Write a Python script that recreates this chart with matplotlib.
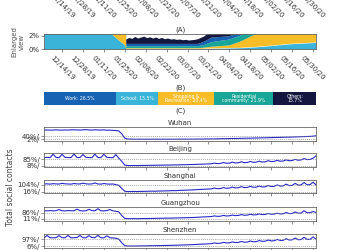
import numpy as np
import pandas as pd
import matplotlib
matplotlib.use("Agg")
import matplotlib.pyplot as plt
import matplotlib.dates as mdates

# colours for the five settings
c_school = '#3ab4d8'
c_shop = '#f6bd27'
c_res = '#17a697'
c_work = '#1763b3'
c_other = '#141640'

# (A) enlarged view: contacts per setting (% of normal), stacked
a_dates = ['2019-12-02', '2020-01-12', '2020-01-16', '2020-01-25', '2020-01-26',
           '2020-01-28', '2020-01-30', '2020-02-01', '2020-02-03', '2020-02-05',
           '2020-02-07', '2020-02-09', '2020-02-11', '2020-02-13', '2020-02-15',
           '2020-02-17', '2020-02-19', '2020-02-21', '2020-02-23', '2020-02-25',
           '2020-02-27', '2020-02-29', '2020-03-02', '2020-03-04', '2020-03-06',
           '2020-03-08', '2020-03-10', '2020-03-12', '2020-03-14', '2020-03-18',
           '2020-03-23', '2020-04-04', '2020-04-12', '2020-04-20', '2020-05-01',
           '2020-05-15', '2020-06-01']
a_school = [25, 25, 2.3, 0.6, 0.03, 0.03, 0.03, 0.03, 0.03, 0.03, 0.03, 0.03, 0.03,
            0.03, 0.03, 0.03, 0.03, 0.03, 0.03, 0.03, 0.03, 0.03, 0.03, 0.03, 0.03,
            0.03, 0.03, 0.03, 0.03, 0.05, 0.1, 0.15, 0.2, 0.3, 0.5, 0.8, 1.0]
a_shop = [20, 20, 20, 20, 0.1, 0.1, 0.1, 0.1, 0.1, 0.1, 0.1, 0.1, 0.1, 0.1, 0.1,
          0.1, 0.1, 0.1, 0.1, 0.1, 0.1, 0.1, 0.1, 0.1, 0.1, 0.1, 0.1, 0.1, 0.1,
          0.15, 0.25, 0.4, 1.0, 1.8, 2.5, 2.5, 3.0]
a_res = [20, 20, 20, 20, 0.3, 0.3, 0.3, 0.3, 0.3, 0.3, 0.3, 0.3, 0.3, 0.3, 0.3,
         0.3, 0.3, 0.3, 0.3, 0.3, 0.3, 0.3, 0.3, 0.3, 0.3, 0.3, 0.3, 0.3, 0.3,
         0.4, 0.7, 0.9, 0.9, 0.9, 1.0, 1.0, 1.0]
a_work = [25, 25, 25, 25, 0.35, 0.35, 0.35, 0.35, 0.35, 0.35, 0.35, 0.35, 0.35,
          0.35, 0.35, 0.35, 0.35, 0.35, 0.35, 0.35, 0.35, 0.35, 0.35, 0.35, 0.35,
          0.35, 0.35, 0.35, 0.35, 0.5, 0.7, 0.5, 0.5, 0.5, 0.5, 0.5, 0.5]
a_other = [15, 15, 15, 15, 0.67, 0.92, 0.77, 1.07, 0.82, 0.97, 1.12, 0.87, 1.02,
           0.82, 0.97, 0.77, 0.92, 0.72, 0.82, 0.67, 0.72, 0.62, 0.67, 0.57, 0.62,
           0.52, 0.57, 0.62, 0.72, 0.8, 1.0, 1.0, 1.0, 1.0, 1.0, 1.0, 1.0]

# (B) share of contacts by setting
b_labels = ['Work: 26.5%', 'School: 15.5%', 'Shopping &\nRecreation: 20.4%',
            'Residential\ncommunity: 21.9%', 'Others:\n15.7%']
b_shares = [26.5, 15.5, 20.4, 21.9, 15.7]

# (C) total social contacts, every 2 days from 12/02/19
cities = ['Wuhan', 'Beijing', 'Shanghai', 'Guangzhou', 'Shenzhen']
city_hi = [40, 85, 104, 86, 97]
city_lo = [2, 8, 16, 11, 6]
wuhan = [116, 117, 115, 116, 118, 116, 115, 117, 116, 118,
         119, 117, 116, 118, 121, 117, 116, 119, 117, 116,
         118, 114, 115, 112, 110, 104, 70, 15, 4, 3,
         2, 2, 2, 2, 2, 2, 2, 2, 2, 2,
         2, 2, 2, 2, 2, 3, 3, 3, 3, 3,
         3, 4, 4, 4, 5, 5, 6, 6, 7, 8,
         8, 9, 10, 11, 11, 12, 13, 14, 15, 15,
         16, 17, 18, 19, 20, 21, 22, 23, 24, 25,
         26, 27, 28, 29, 30, 32, 33, 34, 36, 37,
         40, 45]
beijing = [108, 110, 107, 150, 109, 106, 148, 110, 108, 107,
           152, 109, 107, 146, 110, 108, 106, 150, 108, 107,
           149, 110, 108, 105, 145, 100, 60, 12, 8, 7,
           8, 7, 8, 9, 9, 10, 10, 11, 12, 12,
           13, 13, 14, 15, 15, 16, 17, 18, 19, 20,
           21, 22, 24, 25, 26, 28, 30, 38, 32, 34,
           45, 36, 38, 50, 40, 42, 55, 44, 46, 58,
           48, 50, 62, 52, 54, 68, 57, 60, 72, 62,
           64, 78, 68, 70, 85, 74, 78, 95, 82, 84,
           100, 130]
shanghai = [112, 114, 110, 116, 113, 111, 120, 114, 112, 110,
            118, 113, 112, 122, 114, 111, 113, 125, 112, 110,
            118, 112, 110, 112, 104, 95, 55, 20, 16, 16,
            17, 16, 18, 18, 19, 20, 21, 20, 22, 23,
            24, 25, 26, 28, 27, 30, 31, 33, 34, 36,
            38, 40, 42, 44, 46, 48, 50, 60, 52, 54,
            66, 57, 60, 72, 62, 64, 78, 66, 68, 82,
            70, 72, 86, 74, 76, 92, 80, 82, 100, 86,
            88, 110, 92, 94, 120, 98, 100, 130, 102, 104,
            135, 100]
guangzhou = [110, 108, 112, 109, 111, 125, 110, 108, 112, 110,
             109, 130, 111, 108, 110, 128, 112, 109, 135, 110,
             108, 112, 125, 109, 104, 96, 50, 14, 11, 11,
             12, 11, 12, 13, 13, 14, 14, 15, 16, 16,
             17, 18, 18, 19, 20, 21, 22, 23, 24, 25,
             26, 28, 30, 32, 34, 36, 38, 46, 40, 42,
             52, 45, 47, 56, 50, 52, 62, 54, 56, 66,
             58, 60, 70, 62, 64, 76, 66, 68, 80, 70,
             72, 88, 75, 77, 95, 80, 82, 110, 85, 86,
             100, 90]
shenzhen = [120, 150, 119, 118, 121, 148, 120, 119, 150, 118,
            120, 122, 150, 119, 118, 148, 121, 120, 152, 119,
            118, 145, 120, 116, 112, 100, 50, 10, 6, 6,
            6, 7, 7, 8, 8, 9, 10, 10, 11, 12,
            13, 14, 15, 16, 17, 18, 20, 21, 22, 24,
            26, 28, 30, 32, 34, 36, 38, 48, 42, 44,
            56, 48, 50, 62, 54, 56, 68, 58, 60, 74,
            64, 66, 80, 70, 72, 88, 76, 78, 96, 82,
            84, 105, 88, 90, 115, 92, 94, 125, 96, 98,
            130, 100]
city_vals = [wuhan, beijing, shanghai, guangzhou, shenzhen]

tick_dates = pd.date_range('2019-12-14', '2020-05-30', freq='14D')
xlim = (pd.Timestamp('2019-12-02'), pd.Timestamp('2020-06-01'))
fmt = mdates.DateFormatter('%m/%d/%y')

plt.rcParams['font.family'] = 'DejaVu Sans'
plt.rcParams['axes.edgecolor'] = '#666666'
plt.rcParams['axes.linewidth'] = 0.6
plt.rcParams['xtick.color'] = '#666666'
plt.rcParams['ytick.color'] = '#666666'
plt.rcParams['xtick.labelcolor'] = '#333333'
plt.rcParams['ytick.labelcolor'] = '#333333'
plt.rcParams['xtick.major.size'] = 2
plt.rcParams['ytick.major.size'] = 2
plt.rcParams['xtick.major.width'] = 0.5
plt.rcParams['ytick.major.width'] = 0.5
plt.rcParams['xtick.major.pad'] = 2
plt.rcParams['ytick.major.pad'] = 1

fig = plt.figure(figsize=(3.5, 2.5), dpi=100)
L, W = 0.126, 0.777


def date_ticks(ax, labels=True):
    ax.set_xlim(*xlim)
    ax.set_xticks(tick_dates)
    ax.xaxis.set_major_formatter(fmt)
    if labels:
        plt.setp(ax.get_xticklabels(), rotation=-45, ha='center', fontsize=5)
    else:
        ax.tick_params(axis='x', labelbottom=False)


# panel above, only its tick labels are left in view
ax0 = fig.add_axes([L, 1.052, W, 0.1])
date_ticks(ax0)
ax0.set_yticks([])

# (A)
axA = fig.add_axes([L, 0.804, W, 0.06])
ad = pd.to_datetime(a_dates)
layers = [a_school, a_shop, a_res, a_work, a_other]
cols = [c_school, c_shop, c_res, c_work, c_other]
base = np.zeros(len(ad))
for vals, c in zip(layers, cols):
    top = base + np.array(vals)
    axA.fill_between(ad, base, top, color=c, lw=0)
    base = top
axA.set_ylim(0, 2.3)
axA.set_yticks([0, 2])
axA.set_yticklabels(['0%', '2%'], fontsize=5)
date_ticks(axA)
axA.set_ylabel('Enlarged\nview', fontsize=5, color='#555555', labelpad=3)
axA.set_title('(A)', fontsize=5, pad=2, color='#333333')

# (B)
axB = fig.add_axes([L, 0.58, W, 0.052])
left = 0
for lab, s, c in zip(b_labels, b_shares, [c_work, c_school, c_shop, c_res, c_other]):
    axB.barh(0, s, left=left, color=c, height=1)
    axB.text(left + s / 2, 0, lab, ha='center', va='center', fontsize=3.3,
             color='white', linespacing=0.9)
    left += s
axB.set_xlim(0, 100)
axB.set_ylim(-0.5, 0.5)
axB.axis('off')
axB.set_title('(B)', fontsize=5, pad=2, color='#333333')
fig.text(L + W / 2, 1 - 111 / 250, '(C)', ha='center', va='center', fontsize=5,
         color='#333333')

# (C)
c_dates = pd.date_range('2019-12-02', periods=92, freq='2D')
tops = [127.3, 152.9, 180.2, 207.3, 234.3]
hts = [13.2, 13.8, 13.0, 13.4, 14.0]
ylims = [(-14, 150), (-7, 166), (-5, 160), (-14, 153), (-25, 166)]
for i, name in enumerate(cities):
    ax = fig.add_axes([L, 1 - (tops[i] + hts[i]) / 250, W, hts[i] / 250])
    ax.plot(c_dates, city_vals[i], color='#2828c8', lw=0.8)
    ax.axhline(city_hi[i], color='#888888', lw=0.5, ls=(0, (1.5, 1.5)))
    ax.axhline(city_lo[i], color='#888888', lw=0.5, ls=(0, (1.5, 1.5)))
    ax.set_ylim(*ylims[i])
    ax.set_yticks([city_lo[i], city_hi[i]])
    ax.set_yticklabels([f'{city_lo[i]}%/', f'{city_hi[i]}%/'], fontsize=5)
    date_ticks(ax, labels=(i == len(cities) - 1))
    ax.set_title(name, fontsize=5, pad=1.5, color='#333333')

fig.text(0.03, 1 - 187 / 250, 'Total social contacts', rotation=90, ha='center',
         va='center', fontsize=5.5, color='#444444')

fig.savefig('out.png', dpi=100)
